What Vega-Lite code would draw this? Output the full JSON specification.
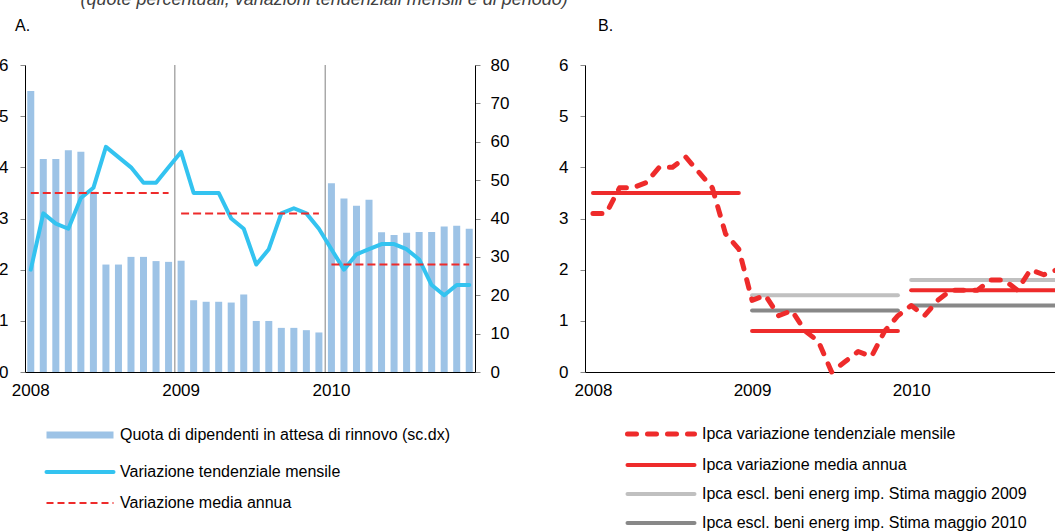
{
  "$schema": "https://vega.github.io/schema/vega-lite/v6.json",
  "background": "white",
  "padding": {"left": -2, "top": -9, "right": 0, "bottom": 0},
  "title": {
    "text": "(quote percentuali, variazioni tendenziali mensili e di periodo)",
    "anchor": "start",
    "dx": 82,
    "fontSize": 18,
    "fontStyle": "italic",
    "fontWeight": "normal",
    "color": "#404040",
    "baseline": "alphabetic",
    "offset": -5
  },
  "config": {
    "font": "Liberation Sans",
    "view": {"stroke": null},
    "axis": {
      "labelFont": "Liberation Sans",
      "labelColor": "#000000",
      "labelFontSize": 17,
      "grid": false,
      "title": null,
      "domainColor": "#000000",
      "domainWidth": 1,
      "tickColor": "#888888",
      "tickSize": 5
    },
    "legend": {
      "labelFont": "Liberation Sans",
      "labelColor": "#000000",
      "labelFontSize": 16,
      "labelLimit": 600
    }
  },
  "datasets": {
    "a_mensile": [
      {"m": "2008-01", "quota": 73.2, "var": 2.0},
      {"m": "2008-02", "quota": 55.5, "var": 3.1},
      {"m": "2008-03", "quota": 55.5, "var": 2.9},
      {"m": "2008-04", "quota": 57.8, "var": 2.8},
      {"m": "2008-05", "quota": 57.4, "var": 3.4},
      {"m": "2008-06", "quota": 47.0, "var": 3.6},
      {"m": "2008-07", "quota": 28.0, "var": 4.4},
      {"m": "2008-08", "quota": 28.0, "var": 4.2},
      {"m": "2008-09", "quota": 30.0, "var": 4.0},
      {"m": "2008-10", "quota": 30.0, "var": 3.7},
      {"m": "2008-11", "quota": 28.9, "var": 3.7},
      {"m": "2008-12", "quota": 28.7, "var": 4.0},
      {"m": "2009-01", "quota": 29.0, "var": 4.3},
      {"m": "2009-02", "quota": 18.7, "var": 3.5},
      {"m": "2009-03", "quota": 18.3, "var": 3.5},
      {"m": "2009-04", "quota": 18.3, "var": 3.5},
      {"m": "2009-05", "quota": 18.1, "var": 3.0},
      {"m": "2009-06", "quota": 20.2, "var": 2.8},
      {"m": "2009-07", "quota": 13.3, "var": 2.1},
      {"m": "2009-08", "quota": 13.3, "var": 2.4},
      {"m": "2009-09", "quota": 11.5, "var": 3.1},
      {"m": "2009-10", "quota": 11.5, "var": 3.2},
      {"m": "2009-11", "quota": 10.9, "var": 3.1},
      {"m": "2009-12", "quota": 10.3, "var": 2.8},
      {"m": "2010-01", "quota": 49.2, "var": 2.4},
      {"m": "2010-02", "quota": 45.2, "var": 2.0},
      {"m": "2010-03", "quota": 43.3, "var": 2.3},
      {"m": "2010-04", "quota": 44.9, "var": 2.4},
      {"m": "2010-05", "quota": 36.4, "var": 2.5},
      {"m": "2010-06", "quota": 35.7, "var": 2.5},
      {"m": "2010-07", "quota": 36.3, "var": 2.4},
      {"m": "2010-08", "quota": 36.5, "var": 2.2},
      {"m": "2010-09", "quota": 36.5, "var": 1.7},
      {"m": "2010-10", "quota": 37.9, "var": 1.5},
      {"m": "2010-11", "quota": 38.1, "var": 1.7},
      {"m": "2010-12", "quota": 37.3, "var": 1.7}
    ],
    "a_media": [
      {"anno": "2008", "m": "2008-01", "v": 3.5},
      {"anno": "2008", "m": "2008-12", "v": 3.5},
      {"anno": "2009", "m": "2009-01", "v": 3.1},
      {"anno": "2009", "m": "2009-12", "v": 3.1},
      {"anno": "2010", "m": "2010-01", "v": 2.1},
      {"anno": "2010", "m": "2010-12", "v": 2.1}
    ],
    "sep": [
      {"m": "2009-01"},
      {"m": "2010-01"}
    ],
    "b_mensile": [
      {"m": "2008-01", "ipca": 3.1},
      {"m": "2008-02", "ipca": 3.1},
      {"m": "2008-03", "ipca": 3.6},
      {"m": "2008-04", "ipca": 3.6},
      {"m": "2008-05", "ipca": 3.7},
      {"m": "2008-06", "ipca": 4.0},
      {"m": "2008-07", "ipca": 4.0},
      {"m": "2008-08", "ipca": 4.2},
      {"m": "2008-09", "ipca": 3.9},
      {"m": "2008-10", "ipca": 3.6},
      {"m": "2008-11", "ipca": 2.7},
      {"m": "2008-12", "ipca": 2.4},
      {"m": "2009-01", "ipca": 1.4},
      {"m": "2009-02", "ipca": 1.5},
      {"m": "2009-03", "ipca": 1.1},
      {"m": "2009-04", "ipca": 1.2},
      {"m": "2009-05", "ipca": 0.8},
      {"m": "2009-06", "ipca": 0.6},
      {"m": "2009-07", "ipca": 0.0},
      {"m": "2009-08", "ipca": 0.2},
      {"m": "2009-09", "ipca": 0.4},
      {"m": "2009-10", "ipca": 0.3},
      {"m": "2009-11", "ipca": 0.8},
      {"m": "2009-12", "ipca": 1.1},
      {"m": "2010-01", "ipca": 1.3},
      {"m": "2010-02", "ipca": 1.1},
      {"m": "2010-03", "ipca": 1.4},
      {"m": "2010-04", "ipca": 1.6},
      {"m": "2010-05", "ipca": 1.6},
      {"m": "2010-06", "ipca": 1.6},
      {"m": "2010-07", "ipca": 1.8},
      {"m": "2010-08", "ipca": 1.8},
      {"m": "2010-09", "ipca": 1.6},
      {"m": "2010-10", "ipca": 2.0},
      {"m": "2010-11", "ipca": 1.9},
      {"m": "2010-12", "ipca": 2.0}
    ],
    "b_medie": [
      {"s": "Ipca escl. beni energ imp. Stima maggio 2009", "anno": "2009", "m": "2009-01", "v": 1.5},
      {"s": "Ipca escl. beni energ imp. Stima maggio 2009", "anno": "2009", "m": "2009-12", "v": 1.5},
      {"s": "Ipca escl. beni energ imp. Stima maggio 2009", "anno": "2010", "m": "2010-01", "v": 1.8},
      {"s": "Ipca escl. beni energ imp. Stima maggio 2009", "anno": "2010", "m": "2010-12", "v": 1.8},
      {"s": "Ipca escl. beni energ imp. Stima maggio 2010", "anno": "2009", "m": "2009-01", "v": 1.2},
      {"s": "Ipca escl. beni energ imp. Stima maggio 2010", "anno": "2009", "m": "2009-12", "v": 1.2},
      {"s": "Ipca escl. beni energ imp. Stima maggio 2010", "anno": "2010", "m": "2010-01", "v": 1.3},
      {"s": "Ipca escl. beni energ imp. Stima maggio 2010", "anno": "2010", "m": "2010-12", "v": 1.3},
      {"s": "Ipca variazione media annua", "anno": "2008", "m": "2008-01", "v": 3.5},
      {"s": "Ipca variazione media annua", "anno": "2008", "m": "2008-12", "v": 3.5},
      {"s": "Ipca variazione media annua", "anno": "2009", "m": "2009-01", "v": 0.8},
      {"s": "Ipca variazione media annua", "anno": "2009", "m": "2009-12", "v": 0.8},
      {"s": "Ipca variazione media annua", "anno": "2010", "m": "2010-01", "v": 1.6},
      {"s": "Ipca variazione media annua", "anno": "2010", "m": "2010-12", "v": 1.6}
    ]
  },
  "spacing": 49,
  "resolve": {"scale": {"color": "independent"}, "legend": {"color": "independent"}},
  "hconcat": [
    {
      "width": 450,
      "height": 307,
      "title": {"text": "A.", "anchor": "start", "frame": "group", "dx": -10, "offset": 9, "fontSize": 16, "fontWeight": "normal", "color": "#000000", "baseline": "alphabetic"},
      "layer": [
        {
          "data": {"name": "a_mensile"},
          "mark": {"type": "bar"},
          "encoding": {
            "x": {
              "field": "m", "type": "ordinal",
              "scale": {"paddingInner": 0.44, "paddingOuter": 0.18},
              "axis": {"labelExpr": "substring(datum.value, 5, 7) == '01' ? substring(datum.value, 0, 4) : ''", "ticks": false, "labelAngle": 0, "labelPadding": 10}
            },
            "y": {
              "field": "quota", "type": "quantitative",
              "scale": {"domain": [0, 80]},
              "axis": {"orient": "right", "values": [0, 10, 20, 30, 40, 50, 60, 70, 80], "labelPadding": 10}
            },
            "color": {
              "datum": "Quota di dipendenti in attesa di rinnovo (sc.dx)",
              "type": "nominal",
              "scale": {
                "domain": ["Quota di dipendenti in attesa di rinnovo (sc.dx)", "Variazione tendenziale mensile", "Variazione media annua"],
                "range": ["#9DC3E6", "#33C3F0", "#EE2B2B"]
              },
              "legend": {
                "orient": "none", "legendX": 18, "legendY": 362,
                "title": null, "symbolType": "stroke", "symbolSize": 100,
                "symbolOffset": 29, "labelOffset": 32, "rowPadding": 15, "padding": 0,
                "encode": {
                  "symbols": {
                    "update": {
                      "size": {"value": 4489},
                      "fill": {"value": "transparent"},
                      "opacity": {"value": 1},
                      "stroke": {"signal": "datum.value === 'Quota di dipendenti in attesa di rinnovo (sc.dx)' ? '#9DC3E6' : datum.value === 'Variazione tendenziale mensile' ? '#33C3F0' : '#EE2B2B'"},
                      "strokeWidth": {"signal": "datum.value === 'Quota di dipendenti in attesa di rinnovo (sc.dx)' ? 7 : datum.value === 'Variazione tendenziale mensile' ? 4 : 2"},
                      "strokeDash": {"signal": "datum.value === 'Variazione media annua' ? [7, 4] : []"},
                      "strokeCap": {"signal": "datum.value === 'Variazione tendenziale mensile' ? 'round' : 'butt'"}
                    }
                  }
                }
              }
            }
          }
        },
        {
          "data": {"name": "sep"},
          "mark": {"type": "rule", "color": "#808080", "strokeWidth": 1},
          "encoding": {
            "x": {"field": "m", "type": "ordinal", "bandPosition": -0.39}
          }
        },
        {
          "layer": [
            {
              "data": {"name": "a_mensile"},
              "mark": {"type": "line", "strokeWidth": 4, "strokeCap": "round", "strokeJoin": "round"},
              "encoding": {
                "x": {"field": "m", "type": "ordinal"},
                "y": {
                  "field": "var", "type": "quantitative",
                  "scale": {"domain": [0, 6]},
                  "axis": {"orient": "left", "values": [0, 1, 2, 3, 4, 5, 6], "labelPadding": 12}
                },
                "color": {"datum": "Variazione tendenziale mensile", "type": "nominal"}
              }
            },
            {
              "data": {"name": "a_media"},
              "mark": {"type": "line", "strokeWidth": 2, "strokeDash": [8, 4]},
              "encoding": {
                "x": {"field": "m", "type": "ordinal"},
                "y": {"field": "v", "type": "quantitative", "scale": {"domain": [0, 6]}},
                "detail": {"field": "anno"},
                "color": {"datum": "Variazione media annua", "type": "nominal"}
              }
            }
          ]
        }
      ],
      "resolve": {"scale": {"y": "independent"}, "axis": {"y": "independent"}}
    },
    {
      "width": 480,
      "height": 307,
      "title": {"text": "B.", "anchor": "start", "frame": "group", "dx": 13, "offset": 9, "fontSize": 16, "fontWeight": "normal", "color": "#000000", "baseline": "alphabetic"},
      "layer": [
        {
          "data": {"name": "b_medie"},
          "mark": {"type": "line", "strokeWidth": 4, "strokeCap": "round"},
          "encoding": {
            "x": {
              "field": "m", "type": "ordinal",
              "scale": {"type": "point", "padding": 0.6},
              "axis": {"labelExpr": "substring(datum.value, 5, 7) == '01' ? substring(datum.value, 0, 4) : ''", "ticks": false, "labelAngle": 0, "labelPadding": 10}
            },
            "y": {
              "field": "v", "type": "quantitative",
              "scale": {"domain": [0, 6]},
              "axis": {"orient": "left", "values": [0, 1, 2, 3, 4, 5, 6], "labelPadding": 12}
            },
            "detail": {"field": "anno"},
            "color": {
              "field": "s", "type": "nominal",
              "scale": {
                "domain": ["Ipca variazione tendenziale mensile", "Ipca variazione media annua", "Ipca escl. beni energ imp. Stima maggio 2009", "Ipca escl. beni energ imp. Stima maggio 2010"],
                "range": ["#EE2B2B", "#EE2B2B", "#C0C0C0", "#888888"]
              },
              "legend": {
                "orient": "none", "legendX": 39, "legendY": 361,
                "title": null, "symbolType": "stroke", "symbolSize": 100,
                "symbolOffset": 29, "labelOffset": 33, "rowPadding": 13, "padding": 0,
                "encode": {
                  "symbols": {
                    "update": {
                      "size": {"value": 4489},
                      "fill": {"value": "transparent"},
                      "opacity": {"value": 1},
                      "stroke": {"signal": "datum.value === 'Ipca escl. beni energ imp. Stima maggio 2009' ? '#C0C0C0' : datum.value === 'Ipca escl. beni energ imp. Stima maggio 2010' ? '#888888' : '#EE2B2B'"},
                      "strokeWidth": {"signal": "datum.value === 'Ipca variazione tendenziale mensile' ? 5 : 4"},
                      "strokeDash": {"signal": "datum.value === 'Ipca variazione tendenziale mensile' ? [9, 11] : []"},
                      "strokeCap": {"value": "round"}
                    }
                  }
                }
              }
            }
          }
        },
        {
          "data": {"name": "b_mensile"},
          "mark": {"type": "line", "strokeWidth": 5, "strokeDash": [9, 11], "strokeCap": "round", "strokeJoin": "round"},
          "encoding": {
            "x": {"field": "m", "type": "ordinal"},
            "y": {"field": "ipca", "type": "quantitative"},
            "color": {"datum": "Ipca variazione tendenziale mensile", "type": "nominal"}
          }
        }
      ]
    }
  ]
}
